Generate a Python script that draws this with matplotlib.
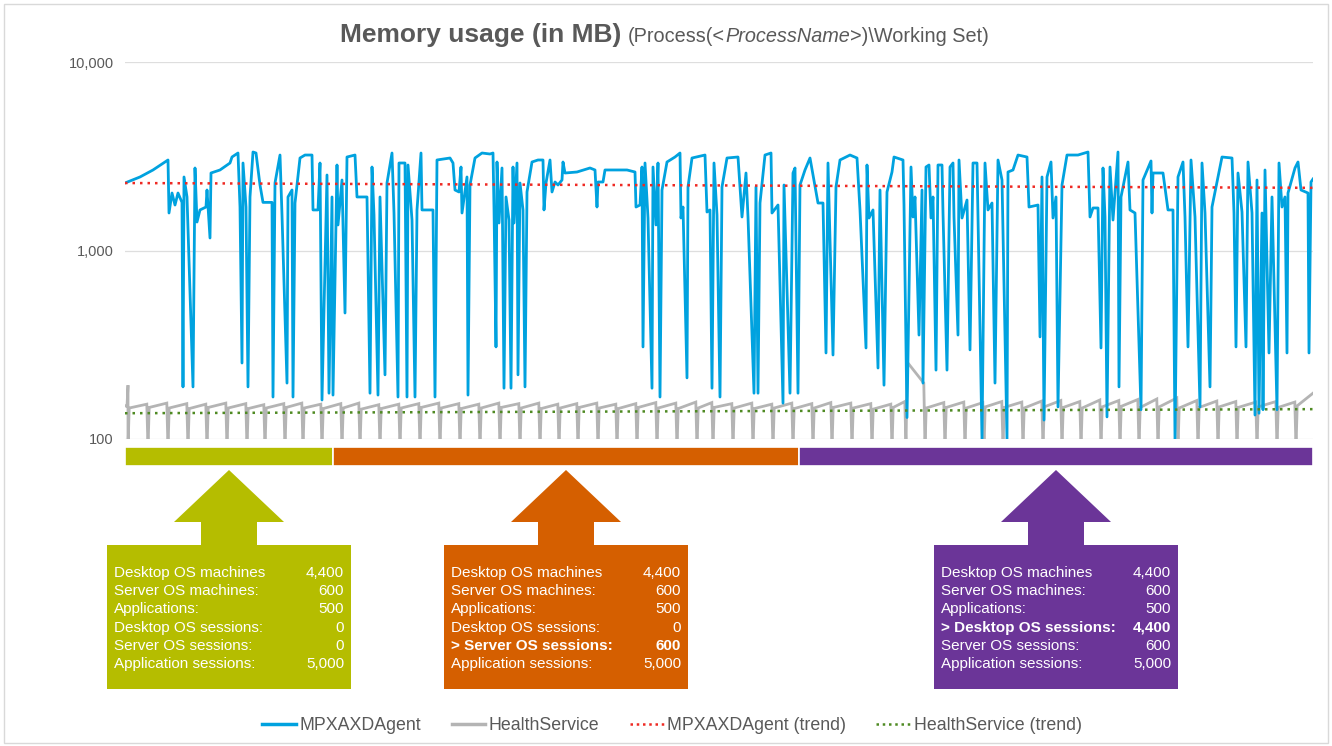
import matplotlib
matplotlib.use("Agg")
import matplotlib.pyplot as plt
import matplotlib.transforms as mtransforms
from matplotlib.patches import Rectangle, Polygon
from matplotlib.lines import Line2D

plt.rcParams["font.family"] = ["Liberation Sans Narrow", "Liberation Sans", "DejaVu Sans"]

# ---- data -------------------------------------------------------------
# sample index along the test run, MB
blue_t = [0, 15, 28, 43, 44, 47, 50, 53, 57, 58, 59, 62, 68, 70, 72, 75, 81, 82, 85, 86,
          95, 105, 107, 113, 115, 117, 118, 121, 123, 125, 128, 131, 135, 138, 147, 148, 150, 155, 157, 162,
          163, 167, 168, 170, 175, 180, 187, 188, 193, 195, 197, 202, 204, 207, 208, 212, 213, 217, 220, 222,
          230, 232, 242, 245, 247, 249, 253, 255, 260, 262, 267, 269, 273, 274, 280, 282, 283, 287, 290, 292,
          296, 297, 308, 310, 312, 325, 328, 330, 334, 336, 337, 342, 343, 345, 350, 357, 365, 368, 369, 371,
          372, 374, 377, 379, 381, 384, 386, 388, 389, 392, 393, 395, 398, 400, 402, 407, 413, 418, 419, 421,
          425, 427, 430, 433, 437, 438, 440, 452, 465, 470, 472, 473, 478, 480, 492, 502, 510, 511, 515, 517,
          518, 520, 523, 527, 528, 531, 533, 535, 537, 542, 550, 555, 556, 558, 562, 563, 567, 580, 582, 585,
          587, 589, 592, 595, 597, 602, 613, 617, 621, 623, 629, 631, 633, 635, 640, 646, 647, 653, 658, 659,
          665, 668, 670, 673, 675, 680, 685, 693, 698, 701, 703, 708, 711, 715, 725, 732, 735, 741, 742, 744,
          748, 753, 755, 759, 762, 767, 769, 778, 779, 782, 786, 788, 790, 794, 797, 798, 801, 804, 806, 808,
          811, 813, 817, 818, 822, 825, 828, 829, 833, 834, 837, 842, 845, 848, 852, 853, 857, 860, 863, 867,
          870, 873, 877, 882, 883, 888, 893, 902, 904, 913, 915, 917, 919, 922, 926, 928, 931, 933, 937, 942,
          953, 963, 965, 968, 973, 976, 978, 980, 982, 985, 988, 993, 994, 996, 1003, 1005, 1010, 1016, 1018, 1026,
          1027, 1028, 1038, 1043, 1048, 1050, 1053, 1058, 1060, 1063, 1066, 1070, 1075, 1077, 1080, 1085, 1087, 1097, 1107, 1109,
          1111, 1113, 1117, 1121, 1123, 1127, 1130, 1132, 1134, 1137, 1138, 1140, 1144, 1147, 1152, 1154, 1157, 1160, 1162, 1163,
          1170, 1173, 1176, 1183, 1184, 1186, 1188]
blue_mb = [2281, 2455, 2674, 3021, 1581, 2018, 1743, 2018, 1800, 189, 2455, 1923, 189, 2740, 1416, 1641, 1701, 2094, 1165, 2577,
           2674, 2912, 3133, 3290, 1701, 253, 2912, 1701, 189, 1923, 3330, 3290, 2226, 1800, 1800, 167, 2281, 3210, 1543, 198,
           1923, 2094, 167, 1786, 3095, 3210, 3210, 1641, 1641, 2912, 161, 2515, 175, 1923, 171, 2842, 1366, 2366, 466, 3133,
           3210, 1923, 1923, 175, 2773, 1543, 171, 1923, 219, 2281, 3290, 1581, 167, 2912, 2912, 167, 2842, 1451, 167, 1641,
           3290, 1641, 1641, 167, 3021, 3095, 2912, 2094, 2044, 2773, 1581, 2455, 171, 2226, 3095, 3290, 3250, 3290, 1681, 308,
           2948, 1399, 2740, 186, 1923, 1451, 186, 2773, 1399, 2912, 219, 2281, 1641, 189, 2044, 2948, 3021, 3021, 1641, 2281,
           3021, 2044, 2309, 2226, 2366, 2948, 2577, 2609, 2740, 2674, 1701, 2309, 2309, 2674, 2674, 2674, 2609, 1701, 1743, 2773,
           308, 2912, 1487, 186, 2773, 1366, 2912, 167, 2094, 2948, 3133, 3290, 1487, 1701, 211, 2173, 3095, 3210, 1600, 1641,
           186, 2912, 1543, 167, 2173, 3095, 3133, 1506, 2577, 1506, 175, 2173, 175, 1786, 3210, 3290, 1581, 1743, 155, 2226,
           175, 2577, 2740, 175, 2226, 2674, 3095, 1786, 1786, 286, 2912, 279, 2173, 3021, 3210, 3095, 1641, 304, 2842, 1487,
           1641, 238, 2094, 193, 2044, 2609, 3133, 3021, 1743, 130, 2773, 1506, 1923, 356, 2094, 198, 2773, 2842, 1487, 1923,
           232, 2842, 2842, 1581, 232, 2773, 2912, 1506, 356, 3021, 1487, 1853, 297, 2912, 2912, 1506, 100, 2912, 1641, 1786,
           198, 3021, 2366, 100, 2609, 2674, 3210, 3133, 1701, 1743, 348, 2455, 126, 2455, 2948, 1487, 1923, 148, 2226, 3210,
           3210, 3330, 1506, 1681, 1681, 304, 2740, 1506, 131, 2773, 1451, 3330, 189, 1923, 2948, 1641, 1581, 143, 2366, 2985,
           1581, 2577, 2577, 1641, 1641, 100, 2455, 2948, 1506, 308, 3021, 1506, 148, 2912, 1581, 189, 1701, 3133, 3095, 1581,
           308, 2577, 1600, 308, 2948, 1581, 134, 2366, 137, 1581, 143, 2674, 286, 1923, 143, 2912, 1701, 1923, 286, 2018,
           2740, 2948, 2094, 2018, 286, 2309, 2395]

# HealthService: restart times and the level after each restart / before the next
gray_drops = [3, 23, 43, 63, 82, 102, 122, 140, 160, 178, 197, 217, 235, 255, 275, 295, 315, 335, 355, 375,
              395, 415, 434, 453, 473, 492, 512, 532, 552, 572, 588, 608, 628, 648, 668, 688, 707, 727, 747, 767,
              781, 800, 820, 840, 859, 878, 898, 918, 937, 956, 976, 995, 1014, 1033, 1053, 1073, 1093, 1112, 1132, 1152,
              1171]
gray_start = [146, 147, 146, 145, 147, 146, 145, 146, 147, 146, 145, 146, 144, 145, 146, 147, 146, 145, 146, 147,
              146, 145, 146, 147, 146, 145, 147, 146, 145, 146, 147, 146, 145, 146, 145, 146, 147, 146, 144, 147,
              256, 146, 147, 146, 148, 147, 146, 148, 147, 146, 148, 149, 147, 148, 146, 147, 148, 147, 148, 147,
              150]
gray_end = [153, 155, 154, 153, 155, 154, 152, 154, 155, 153, 154, 155, 152, 153, 154, 155, 154, 153, 155, 154,
            155, 153, 154, 155, 153, 154, 156, 155, 157, 156, 154, 155, 153, 155, 154, 156, 155, 154, 153, 158,
            198, 156, 157, 156, 158, 157, 159, 160, 158, 161, 160, 162, 163, 165, 160, 159, 158, 157, 158, 157,
            175]
gray_first = [150, 149, 193]   # before the first restart (t = 0, 2, 3)
gray_floor = 90

# linear trend lines (start / end of run)
trend_t = [0, 1188]
blue_trend = [2280, 2150]
gray_trend = [137, 144]

# test phases
phase_edges = [0, 208, 674, 1188]
phase_colors = ["#b5bd00", "#d55f00", "#6b3598"]
row_labels = ["Desktop OS machines", "Server OS machines:", "Applications:",
              "Desktop OS sessions:", "Server OS sessions:", "Application sessions:"]
phase_values = [["4,400", "600", "500", "0", "0", "5,000"],
                ["4,400", "600", "500", "0", "600", "5,000"],
                ["4,400", "600", "500", "4,400", "600", "5,000"]]
phase_bold_row = [None, 4, 3]

BLUE = "#00a2df"
GRAY = "#b4b4b4"
TXT = "#595959"

# ---- build gray vertices ----------------------------------------------
gt = [0, 2, 3]
gv = list(gray_first)
for i, d in enumerate(gray_drops):
    nxt = gray_drops[i + 1] if i + 1 < len(gray_drops) else trend_t[-1] + 1.2
    gt += [d, d + 1.2, nxt - 1.2]
    gv += [gray_floor, gray_start[i], gray_end[i]]

# ---- figure -----------------------------------------------------------
W, H = 1332, 746
fig = plt.figure(figsize=(W / 100, H / 100), dpi=100)
ax = fig.add_axes([125 / W, 1 - 439 / H, (1313 - 125) / W, (439 - 62) / H])

ax.plot(gt, gv, color=GRAY, lw=2.0, solid_joinstyle="miter", zorder=2)
ax.plot(blue_t, blue_mb, color=BLUE, lw=2.0, zorder=3)
ax.plot(trend_t, blue_trend, color="#ee2a24", lw=1.8, ls=(0, (1, 2)), zorder=4)
ax.plot(trend_t, gray_trend, color="#4f8a23", lw=1.8, ls=(0, (1, 2)), zorder=4)

ax.set_yscale("log")
ax.set_ylim(100, 10000)
ax.set_xlim(0, 1188)
ax.set_yticks([100, 1000, 10000])
ax.set_yticklabels(["100", "1,000", "10,000"])
ax.minorticks_off()
ax.tick_params(axis="y", length=0, pad=8, labelsize=10.5, labelcolor=TXT)
ax.set_xticks([])
ax.yaxis.grid(True, color="#dedede", lw=0.9)
ax.set_axisbelow(True)
for s in ax.spines.values():
    s.set_visible(False)

# phase bars just below the plot area
trans = mtransforms.blended_transform_factory(ax.transData, ax.transAxes)
for i, c in enumerate(phase_colors):
    a, b = phase_edges[i], phase_edges[i + 1]
    ax.add_patch(Rectangle((a, -0.071), b - a, 0.049, transform=trans, facecolor=c,
                           edgecolor="white", lw=1.2, clip_on=False))

# arrows + info boxes (pixel space overlay, centred on each phase)
ov = fig.add_axes([0, 0, 1, 1])
ov.set_xlim(0, W)
ov.set_ylim(H, 0)
ov.axis("off")
for i, c in enumerate(phase_colors):
    mid = (phase_edges[i] + phase_edges[i + 1]) / 2
    cx = ax.transData.transform((mid, 1000))[0]
    pts = [(cx, 470), (cx + 55, 522), (cx + 28, 522), (cx + 28, 545), (cx + 122, 545),
           (cx + 122, 689), (cx - 122, 689), (cx - 122, 545), (cx - 28, 545),
           (cx - 28, 522), (cx - 55, 522)]
    ov.add_patch(Polygon(pts, closed=True, facecolor=c, edgecolor="none"))
    for r, lab in enumerate(row_labels):
        y = 573 + r * 18.2
        bold = phase_bold_row[i] == r
        txt = "> " + lab if bold else lab
        fw = "bold" if bold else "normal"
        ov.text(cx - 115, y, txt, color="white", fontsize=11, fontweight=fw,
                ha="left", va="center", family=["Liberation Sans", "DejaVu Sans"])
        ov.text(cx + 115, y, phase_values[i][r], color="white", fontsize=11, fontweight=fw,
                ha="right", va="center", family=["Liberation Sans", "DejaVu Sans"])

# title in two weights
rend = fig.canvas.get_renderer()
fig.text(621 / W, 1 - 42 / H, "Memory usage (in MB)", ha="right", va="baseline",
         fontsize=19, fontweight="bold", color=TXT)
x = 628
for s, st in [("(Process(<", "normal"), ("ProcessName", "italic"), (">)\\Working Set)", "normal")]:
    t = fig.text(x / W, 1 - 42 / H, s, ha="left", va="baseline", fontsize=14.3, style=st, color=TXT)
    x += t.get_window_extent(rend).width

# legend
handles = [Line2D([], [], color=BLUE, lw=2.5),
           Line2D([], [], color=GRAY, lw=2.5),
           Line2D([], [], color="#ee2a24", lw=1.8, ls=(0, (1, 1.5))),
           Line2D([], [], color="#4f8a23", lw=1.8, ls=(0, (1, 1.5)))]
labels = ["MPXAXDAgent", "HealthService", "MPXAXDAgent (trend)", "HealthService (trend)"]
fig.legend(handles, labels, loc="center", bbox_to_anchor=(672 / W, 1 - 726 / H), ncol=4,
           frameon=False, fontsize=12.8, handlelength=1.9, handletextpad=0.2,
           columnspacing=1.7, labelcolor=TXT)

fig.patches.append(Rectangle((4 / W, 3 / H), (W - 8) / W, (H - 7) / H, transform=fig.transFigure,
                             fill=False, edgecolor="#d9d9d9", lw=1.0))

fig.savefig("out.png", dpi=100, facecolor="white")
